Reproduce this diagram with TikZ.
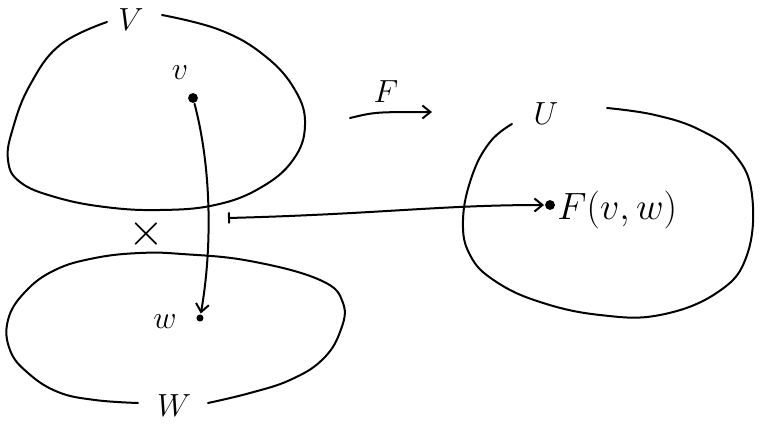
\RequirePackage{fix-cm}
\documentclass[tikz,border=0pt]{standalone}
\usetikzlibrary{arrows.meta}
\begin{document}
\begin{tikzpicture}[x=1pt,y=-1pt,line width=2pt,line cap=round,line join=round,
  >={Straight Barb[length=8pt,width=13pt]},
  font=\fontsize{32}{36}\selectfont,
  dot/.style={circle,fill,inner sep=3.5pt}]
\useasboundingbox (0,0) rectangle (762,428);
% the set V
\draw plot[smooth, tension=.7] coordinates {(107,22) (60,45) (30,85) (13,128) (8,160) (20,182) (55,197) (105,207) (160,210) (215,205) (260,188) (293,160) (305,125) (295,90) (265,56) (220,30) (162,15)};
\node (labV) at (131,20) {$V$};
% the set W
\draw plot[smooth, tension=.7] coordinates {(138,403) (95,400) (58,392) (28,373) (10,350) (8,320) (25,292) (55,270) (95,258) (140,253) (182,254) (250,261) (320,280) (343,303) (340,332) (322,360) (290,380) (250,393) (208,403)};
\node (labW) at (174,406) {$W$};
\node[font=\fontsize{46}{50}\selectfont] (labX) at (146,234) {$\times$};
% the set U
\draw plot[smooth, tension=.7] coordinates {(512,124) (490,142) (472,176) (463,220) (470,255) (495,281) (540,302) (600,315) (660,315) (718,292) (747,255) (752,195) (735,155) (700,130) (655,115) (607,108)};
\node (labU) at (546,114) {$U$};
% points
\node[dot] (v) at (193,98) {};
\node (labv) at (180,73) {$v$};
\node[dot,inner sep=2.5pt] (w) at (200,318) {};
\node (labw) at (165,322) {$w$};
\node[dot] (Fvw) at (550,205) {};
\node[right,font=\fontsize{38}{42}\selectfont] (labF) at (553,210) {$F(v,w)$};
% arrows
\draw[->] (v) .. controls (212,170) and (212,250) .. (w);
\coordinate (m) at (228,218);
\draw[|->] (m) .. controls (380,214) and (440,205) .. (Fvw);
\coordinate (fa) at (350,118);
\coordinate (fb) at (432,112);
\draw[->] (fa) .. controls (375,112) .. (fb);
\node (labFa) at (386,92) {$F$};
\end{tikzpicture}
\end{document}
